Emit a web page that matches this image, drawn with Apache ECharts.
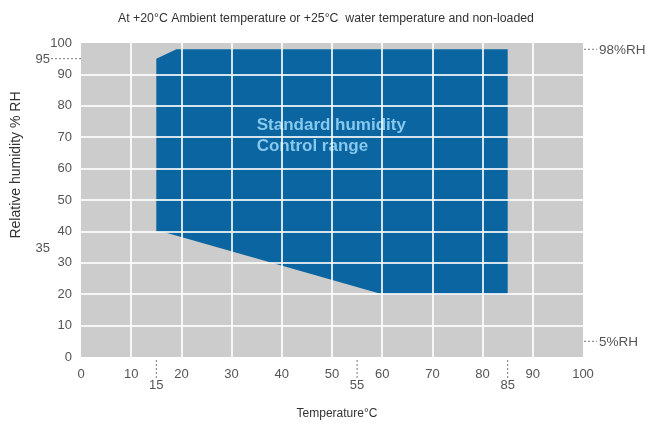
<!DOCTYPE html>
<html><head><meta charset="utf-8">
<script src="https://cdn.jsdelivr.net/npm/echarts@6/dist/echarts.min.js"></script>
<style>html,body{margin:0;padding:0;background:#fff}#c{width:652px;height:428px}</style>
</head><body><div id="c"></div>
<script>
const titleText = 'At +20°C Ambient temperature or +25°C  water temperature and non-loaded';
const xName = 'Temperature°C';
const yName = 'Relative humidity % RH';
// control range polygon (temperature °C, humidity %RH)
const rangeTemp = [15, 19, 85, 85, 60, 17, 15];
const rangeRH   = [95, 98, 98, 20, 20, 39.6, 40];
const rangeLabel = 'Standard humidity\nControl range';
const rangeLabelPos = [35, 70.5];
// extra reference marks
const tempMarks = [15, 55, 85];
const rhLeftMarks = [95, 35];
const rhLeftDashed = [true, false];
const rhRightMarks = [98, 5];
const rhRightLabels = ['98%RH', '5%RH'];

const FONT = '"Liberation Sans", Arial, sans-serif';
const chart = echarts.init(document.getElementById('c'));

const polyData = rangeTemp.map((t, i) => [t, rangeRH[i]]);
const marksData = [];
tempMarks.forEach(t => marksData.push({value: [t, 0], kind: 'x', label: String(t)}));
rhLeftMarks.forEach((r, i) => marksData.push({value: [0, r], kind: 'yl', label: String(r), dashed: rhLeftDashed[i]}));
rhRightMarks.forEach((r, i) => marksData.push({value: [100, r], kind: 'yr', label: rhRightLabels[i]}));

chart.setOption({
  animation: false,
  title: {
    text: titleText, left: 'center', top: 8,
    textStyle: {fontSize: 12.3, fontWeight: 'normal', color: '#333', fontFamily: FONT}
  },
  grid: {left: 81, right: 69, top: 43, bottom: 71, show: true, backgroundColor: '#cccccc', borderWidth: 0, z: 0},
  xAxis: {
    type: 'value', min: 0, max: 100, interval: 10, z: 3,
    name: xName, nameLocation: 'middle', nameGap: 51,
    nameTextStyle: {fontSize: 12, color: '#333', fontFamily: FONT, padding: [0, 0, 0, 10]},
    axisLine: {show: false}, axisTick: {show: false},
    axisLabel: {fontSize: 13, color: '#555', margin: 11, fontFamily: FONT},
    splitLine: {show: true, showMinLine: false, showMaxLine: false, lineStyle: {color: 'rgba(255,255,255,0.82)', width: 2}}
  },
  yAxis: {
    type: 'value', min: 0, max: 100, interval: 10, z: 3,
    name: yName, nameLocation: 'middle', nameGap: 58, nameRotate: 90,
    nameTextStyle: {fontSize: 14, color: '#333', fontFamily: FONT, padding: [0, 0, 0, 70]},
    axisLine: {show: false}, axisTick: {show: false},
    axisLabel: {fontSize: 13, color: '#555', margin: 9, fontFamily: FONT},
    splitLine: {show: true, showMinLine: false, showMaxLine: false, lineStyle: {color: 'rgba(255,255,255,0.82)', width: 2}}
  },
  series: [
    {
      type: 'custom', z: 1, silent: true,
      data: polyData,
      renderItem: function (params, api) {
        if (params.dataIndex !== 0) return null;
        const pts = polyData.map(p => api.coord(p));
        const lp = api.coord(rangeLabelPos);
        return {
          type: 'group',
          children: [
            {type: 'polygon', shape: {points: pts}, style: {fill: '#0b65a0'}},
            {type: 'text', z2: 10, style: {text: rangeLabel, x: lp[0], y: lp[1], align: 'left', verticalAlign: 'middle',
              font: 'bold 17px ' + FONT, fill: '#86c8ee', lineHeight: 21}}
          ]
        };
      }
    },
    {
      type: 'custom', z: 5, silent: true, clip: false,
      data: marksData,
      renderItem: function (params, api) {
        const d = marksData[params.dataIndex];
        const p = api.coord(d.value);
        const dash = {stroke: '#777', lineWidth: 1, lineDash: [2, 2]};
        const font = '13px ' + FONT;
        if (d.kind === 'x') {
          return {type: 'group', children: [
            {type: 'line', shape: {x1: p[0], y1: p[1] + 3, x2: p[0], y2: p[1] + 21}, style: dash},
            {type: 'text', style: {text: d.label, x: p[0], y: p[1] + 28, align: 'center', verticalAlign: 'middle', font: font, fill: '#555'}}
          ]};
        }
        if (d.kind === 'yl') {
          const ch = [{type: 'text', style: {text: d.label, x: p[0] - 31, y: p[1] + 1, align: 'right', verticalAlign: 'middle', font: font, fill: '#555'}}];
          if (d.dashed) ch.push({type: 'line', shape: {x1: p[0] - 30, y1: p[1], x2: p[0], y2: p[1]}, style: dash});
          return {type: 'group', children: ch};
        }
        return {type: 'group', children: [
          {type: 'line', shape: {x1: p[0] + 1, y1: p[1], x2: p[0] + 14, y2: p[1]}, style: dash},
          {type: 'text', style: {text: d.label, x: p[0] + 16, y: p[1] + 1, align: 'left', verticalAlign: 'middle', font: '13.5px ' + FONT, fill: '#555'}}
        ]};
      }
    }
  ]
});
</script></body></html>
